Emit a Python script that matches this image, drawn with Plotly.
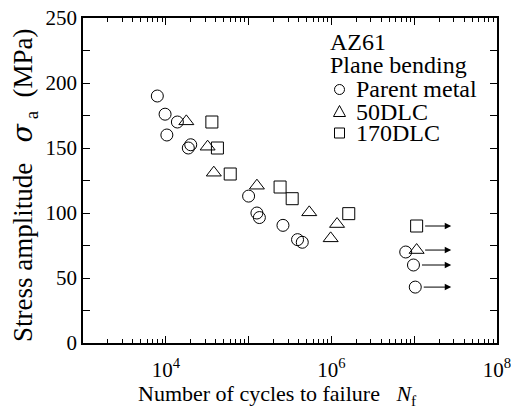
import math
import plotly.graph_objects as go

# Parent metal (circles)
pm_N = [7.9e3, 9.8e3, 1.38e4, 1.03e4, 2.0e4, 1.87e4, 1.0e5, 1.26e5, 1.35e5, 2.6e5, 3.9e5, 4.45e5, 7.9e6, 9.8e6, 1.03e7]
pm_S = [190, 176, 170, 160, 152.5, 150, 113, 100, 96.5, 90.5, 79.5, 77.5, 70, 60, 43]
# 50DLC (triangles)
d50_N = [1.77e4, 3.2e4, 3.8e4, 1.26e5, 5.4e5, 1.17e6, 9.8e5, 1.07e7]
d50_S = [170.5, 151, 131, 121, 100.5, 91.5, 80.5, 71.5]
# 170DLC (squares)
d170_N = [3.6e4, 4.2e4, 6.0e4, 2.4e5, 3.36e5, 1.62e6, 1.07e7]
d170_S = [170, 150, 130, 120, 111, 99.5, 90]
# Run-outs (arrows)
run_N = [1.07e7, 1.07e7, 9.8e6, 1.03e7]
run_S = [90, 71.5, 60, 43]
run_end = 2.8e7

x_tickvals = [1e3, 1e4, 1e5, 1e6, 1e7, 1e8]
x_ticktext = ["", "10<sup>4</sup>", "", "10<sup>6</sup>", "", "10<sup>8</sup>"]
y_tickvals = [0, 50, 100, 150, 200, 250]

legend_head = ["AZ61", "Plane bending"]
legend_names = ["Parent metal", "50DLC", "170DLC"]
x_title = "Number of cycles to failure&nbsp;&nbsp;&nbsp;<i>N</i><sub>f</sub>"
y_title = ("Stress amplitude&nbsp;&nbsp;&nbsp;"
           "<span style=\"font-family:DejaVu Serif\"><i>&#963;</i></span><sub>&nbsp;a</sub>"
           "&nbsp;&nbsp;(MPa)")

FONT = "Liberation Serif"

# plot-area geometry (pixels) used to place the hand-drawn legend and titles
L, R, T, B = 83, 497, 18, 343


def px(xp):
    return (xp - L) / (R - L)


def py(yp):
    return (B - yp) / (B - T)


fig = go.Figure()
mk = dict(color="black", width=1)
fig.add_trace(go.Scatter(x=pm_N, y=pm_S, mode="markers", name=legend_names[0],
                         marker=dict(symbol="circle-open", size=12, color="black", line=mk)))
fig.add_trace(go.Scatter(x=d50_N, y=d50_S, mode="markers", name=legend_names[1],
                         marker=dict(symbol="triangle-up-open", size=13, color="black", line=mk)))
fig.add_trace(go.Scatter(x=d170_N, y=d170_S, mode="markers", name=legend_names[2],
                         marker=dict(symbol="square-open", size=12, color="black", line=mk)))

for n, s in zip(run_N, run_S):
    fig.add_annotation(x=math.log10(run_end), y=s, ax=math.log10(n), ay=s,
                       axref="x", ayref="y", xref="x", yref="y", text="",
                       showarrow=True, arrowhead=2, arrowsize=1.3, arrowwidth=1,
                       arrowcolor="black", startstandoff=7)

# legend block: header text
for t, yy in zip(legend_head, [42, 64.5]):
    fig.add_annotation(x=px(328), y=py(yy), xref="paper", yref="paper", text=t, showarrow=False,
                       xanchor="left", yanchor="middle",
                       font=dict(family=FONT, size=24, color="black"))
# legend entries
item_y = [89.5, 111.5, 133]
for name, yy in zip(legend_names, item_y):
    fig.add_annotation(x=px(354), y=py(yy), xref="paper", yref="paper", text=name, showarrow=False,
                       xanchor="left", yanchor="middle",
                       font=dict(family=FONT, size=24, color="black"))
# legend symbols
ln = dict(color="black", width=1)
fig.add_shape(type="circle", xref="paper", yref="paper", line=ln,
              x0=px(334.5), x1=px(344.5), y0=py(item_y[0] + 5), y1=py(item_y[0] - 5))
fig.add_shape(type="path", xref="paper", yref="paper", line=ln,
              path="M %f,%f L %f,%f L %f,%f Z" % (px(339.5), py(item_y[1] - 6),
                                                   px(333.5), py(item_y[1] + 5),
                                                   px(345.5), py(item_y[1] + 5)))
fig.add_shape(type="rect", xref="paper", yref="paper", line=ln,
              x0=px(334.5), x1=px(344.5), y0=py(item_y[2] + 5), y1=py(item_y[2] - 5))

# axis titles
fig.add_annotation(x=px(277), y=py(395), xref="paper", yref="paper", text=x_title, showarrow=False,
                   xanchor="center", yanchor="middle", font=dict(family=FONT, size=22, color="black"))
fig.add_annotation(x=px(24), y=py(185), xref="paper", yref="paper", text=y_title, showarrow=False,
                   xanchor="center", yanchor="middle", textangle=-90,
                   font=dict(family=FONT, size=27, color="black"))

minor_vals = [m * 10 ** d for d in range(3, 8) for m in range(2, 10)]

fig.update_xaxes(type="log", range=[3, 8], tickvals=x_tickvals, ticktext=x_ticktext,
                 ticks="inside", ticklen=7, tickwidth=1, tickcolor="black",
                 mirror="ticks", showline=True, linecolor="black", linewidth=1.5,
                 showgrid=False, zeroline=False, automargin=False,
                 ticklabeloverflow="allow", ticklabelstandoff=7,
                 minor=dict(tickvals=minor_vals, ticks="inside", ticklen=4, tickcolor="black", showgrid=False),
                 tickfont=dict(family=FONT, size=21, color="black"))
fig.update_yaxes(range=[0, 250], tickvals=y_tickvals,
                 ticks="inside", ticklen=7, tickwidth=1, tickcolor="black",
                 mirror="ticks", showline=True, linecolor="black", linewidth=1.5,
                 showgrid=False, zeroline=False, automargin=False,
                 minor=dict(dtick=25, ticks="inside", ticklen=7, tickcolor="black", showgrid=False),
                 tickfont=dict(family=FONT, size=21, color="black"))

fig.update_layout(
    width=511, height=409,
    margin=dict(l=L, r=511 - R, t=T, b=409 - B),
    paper_bgcolor="white", plot_bgcolor="white",
    showlegend=False,
)

fig.write_html("out.html", config={"displayModeBar": False},
               post_script="document.body.style.margin='0';")
